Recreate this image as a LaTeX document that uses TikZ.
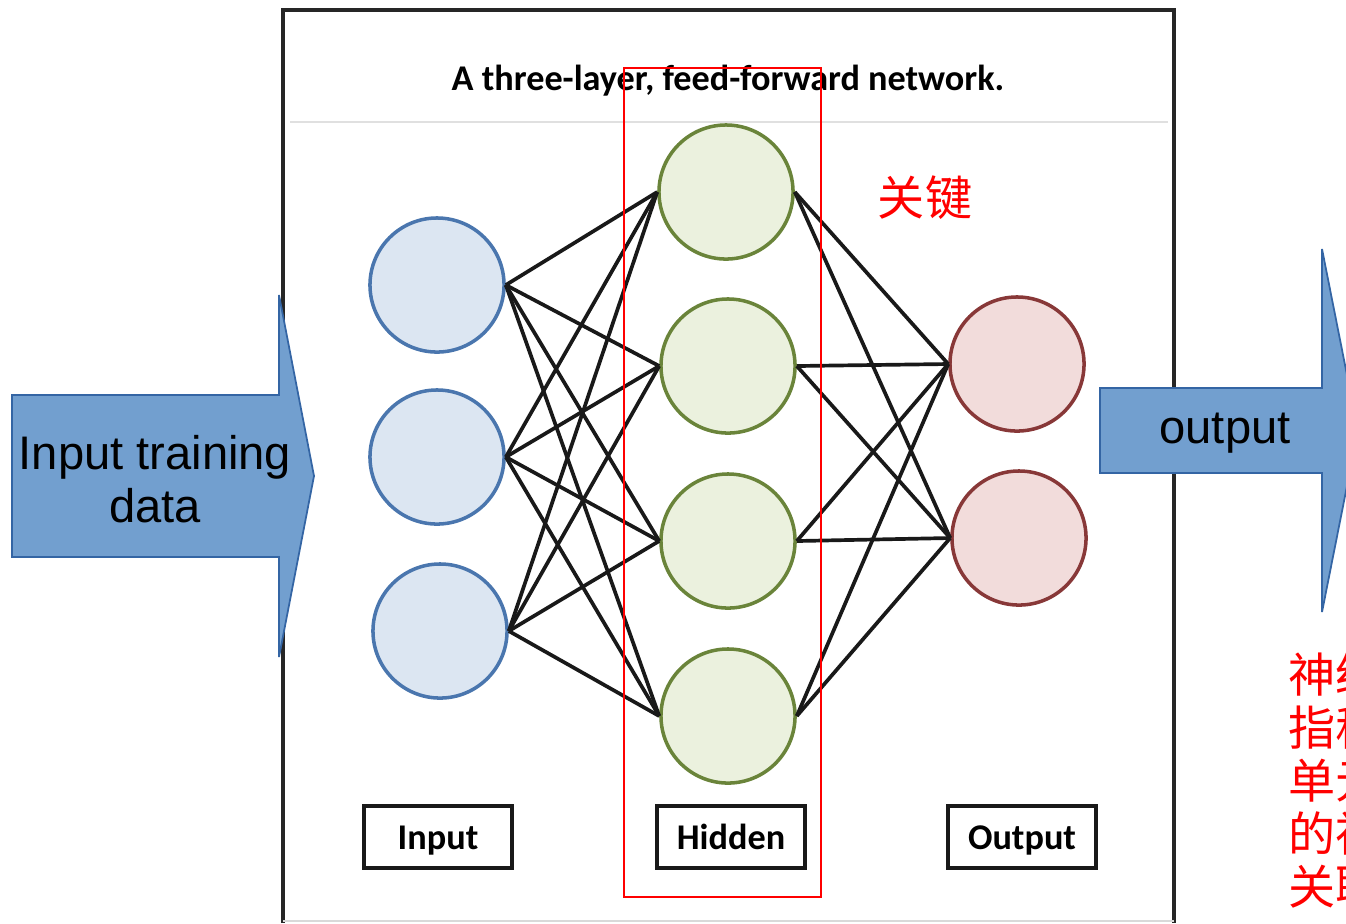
\documentclass[tikz,border=0pt]{standalone}
\usepackage{fontspec}
\setmainfont{Liberation Sans}
\newfontfamily\calib{Carlito}
\newfontfamily\cjk{Noto Sans CJK SC}
\definecolor{inFill}{HTML}{DCE6F2}
\definecolor{inLine}{HTML}{4A76AE}
\definecolor{hidFill}{HTML}{EBF1DE}
\definecolor{hidLine}{HTML}{6A843A}
\definecolor{outFill}{HTML}{F2DCDB}
\definecolor{outLine}{HTML}{883838}
\definecolor{arrFill}{HTML}{729FCF}
\definecolor{arrLine}{HTML}{3465A4}
\definecolor{redc}{HTML}{FF0000}
\tikzset{
  neuron/.style={circle, minimum size=1.34cm, inner sep=0pt, line width=1pt},
  inneuron/.style={neuron, draw=inLine, fill=inFill},
  hidneuron/.style={neuron, draw=hidLine, fill=hidFill},
  outneuron/.style={neuron, draw=outLine, fill=outFill},
  conn/.style={line width=1.05pt, black!90},
  labelbox/.style={draw=black!90, line width=1pt, minimum width=1.48cm, minimum height=0.62cm, inner sep=0pt, text height=1.6ex, text depth=0.25ex, font=\calib\bfseries\fontsize{10.3pt}{12pt}\selectfont},
  bigarrow/.style={fill=arrFill, draw=arrLine, line width=0.5pt},
  arrowtext/.style={font=\fontsize{13.4pt}{15.1pt}\selectfont, align=center, inner sep=0pt},
  redtext/.style={text=redc, font=\cjk\fontsize{13.4pt}{15.1pt}\selectfont, inner sep=0pt},
  framebox/.style={line width=1pt, black!85}
}
\begin{document}
\begin{tikzpicture}[x=0.01cm, y=-0.01cm]
\useasboundingbox (0,0) rectangle (1346,923);
% frame
\draw[framebox] (283,923) -- (283,10) -- (1174,10) -- (1174,923);
\draw[black!15, line width=0.5pt] (283,921) -- (1174,921);
\draw[black!12, line width=0.4pt] (290,122) -- (1168,122);
\node[font=\calib\bfseries\fontsize{10.3pt}{12pt}\selectfont, inner sep=0pt] (title) at (728,81) {A three-layer, feed-forward network.};
% neurons
\node[inneuron] (i1) at (437,285) {};
\node[inneuron] (i2) at (437,457) {};
\node[inneuron] (i3) at (440,631) {};
\node[hidneuron] (h1) at (726,192) {};
\node[hidneuron] (h2) at (728,366) {};
\node[hidneuron] (h3) at (728,541) {};
\node[hidneuron] (h4) at (728,716) {};
\node[outneuron] (o1) at (1017,364) {};
\node[outneuron] (o2) at (1019,538) {};
% connections
\foreach \a in {i1,i2,i3}{
  \foreach \b in {h1,h2,h3,h4}{
    \draw[conn] (\a.east) -- (\b.west);
  }
}
\foreach \a in {h1,h2,h3,h4}{
  \foreach \b in {o1,o2}{
    \draw[conn] (\a.east) -- (\b.west);
  }
}
% labels
\node[labelbox] (lin) at (438,837) {Input};
\node[labelbox] (lhid) at (731,837) {Hidden};
\node[labelbox] (lout) at (1022,837) {Output};
% red highlight
\draw[redc, line width=0.6pt] (624,68) rectangle (821,897);
\node[redtext] (key) at (925,198) {关键};
% left arrow
\draw[bigarrow] (12,395) -- (279,395) -- (279,295) -- (314,476) -- (279,657) -- (279,557) -- (12,557) -- cycle;
\node[arrowtext] (intext) at (155,479) {Input training\\data};
% right arrow
\draw[bigarrow] (1100,388) -- (1322,388) -- (1322,249) -- (1358,430.5) -- (1322,612) -- (1322,473) -- (1100,473) -- cycle;
\node[arrowtext] (outtext) at (1225,433) {output};
% red note (clipped at page edge, as in the reference)
\node[redtext, anchor=north west, align=left] (note) at (1288,652) {神经\\指称\\单元\\的神\\关联};
\end{tikzpicture}
\end{document}
